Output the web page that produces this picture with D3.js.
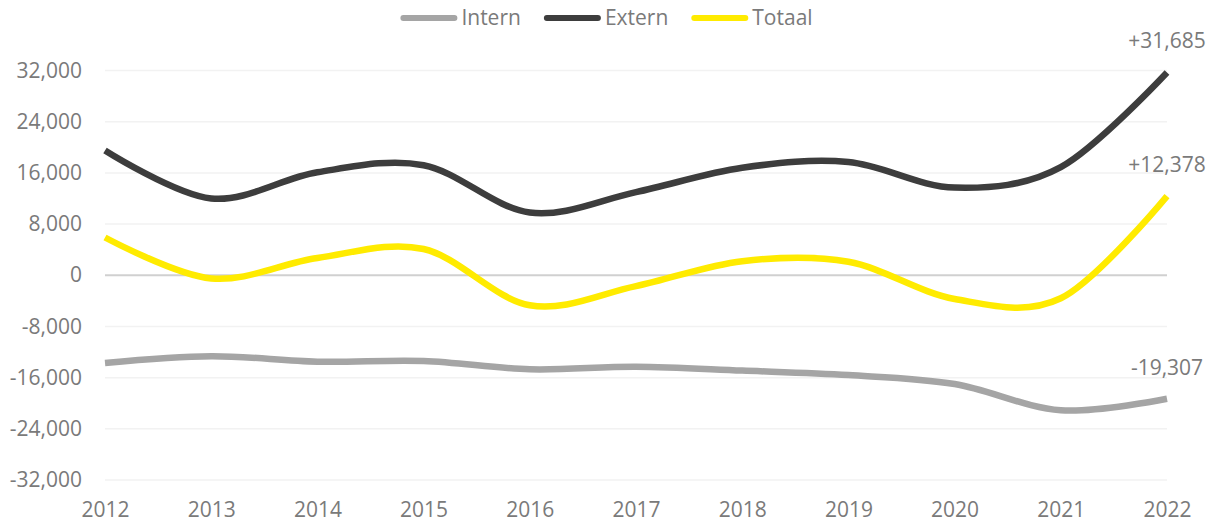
<!DOCTYPE html>
<html>
<head>
<meta charset="utf-8">
<script src="https://cdn.jsdelivr.net/npm/d3@7/dist/d3.min.js"></script>
<style>
  html, body { margin: 0; padding: 0; background: #ffffff; }
  svg { display: block; }
</style>
</head>
<body>
<div id="chart"></div>
<script>
// ── data ──────────────────────────────────────────────────────────────────
var years  = [2012, 2013, 2014, 2015, 2016, 2017, 2018, 2019, 2020, 2021, 2022];
var intern = [-13700, -12650, -13500, -13400, -14700, -14300, -14900, -15600, -17000, -21100, -19307];
var extern = [19500, 12000, 16100, 17200, 9800, 13000, 16800, 17700, 13700, 16900, 31685];
var totaal = [5900, -500, 2700, 4100, -4700, -1700, 2200, 2100, -3700, -3600, 12378];
var yTicks = [-32000, -24000, -16000, -8000, 0, 8000, 16000, 24000, 32000];

var seriesNames  = ['Intern', 'Extern', 'Totaal'];
var seriesValues = [intern, extern, totaal];

// ── theme ─────────────────────────────────────────────────────────────────
var c = {
    intern:   '#a5a5a5',
    extern:   '#3d3d3d',
    totaal:   '#ffeb00',
    grid:     '#f2f2f2',
    zero:     '#d0d0d0',
    text:     '#7a7a7a',
};
var colors = [c.intern, c.extern, c.totaal];
var font = '"Open Sans", "Liberation Sans", sans-serif';

// ── geometry ──────────────────────────────────────────────────────────────
var W = 1213, H = 523;
var x0 = 105, x1 = 1167;
var yTop = 70.5, yBot = 480;

var loc = d3.formatLocale({ decimal: '.', thousands: ',', grouping: [3], currency: ['', ''], minus: '-' });
var fmtTick = loc.format(',');
var fmtEnd  = loc.format('+,');

var x = d3.scaleLinear().domain([2012, 2022]).range([x0, x1]);
var y = d3.scaleLinear().domain([-32000, 32000]).range([yBot, yTop]);

var svg = d3.select('#chart').append('svg')
    .attr('width', W).attr('height', H)
    .attr('font-family', font);

// ── gridlines ─────────────────────────────────────────────────────────────
svg.append('g').selectAll('line').data(yTicks).enter().append('line')
    .attr('x1', x0).attr('x2', x1)
    .attr('y1', function (d) { return y(d); })
    .attr('y2', function (d) { return y(d); })
    .attr('stroke', function (d) { return d === 0 ? c.zero : c.grid; })
    .attr('stroke-width', function (d) { return d === 0 ? 2 : 1.5; });

// ── axes ──────────────────────────────────────────────────────────────────
var yAxis = svg.append('g')
    .attr('transform', 'translate(' + (x0 - 23) + ',0)')
    .call(d3.axisLeft(y).tickValues(yTicks).tickSize(0).tickPadding(0).tickFormat(fmtTick));

var xAxis = svg.append('g')
    .attr('transform', 'translate(0,' + yBot + ')')
    .call(d3.axisBottom(x).tickValues(years).tickSize(0).tickPadding(22).tickFormat(d3.format('d')));

[yAxis, xAxis].forEach(function (ax) {
    ax.select('.domain').remove();
    ax.selectAll('text')
        .attr('fill', c.text)
        .attr('font-size', '21px')
        .attr('font-family', font);
});

// ── lines ─────────────────────────────────────────────────────────────────
var line = d3.line()
    .x(function (d, i) { return x(years[i]); })
    .y(function (d) { return y(d); })
    .curve(d3.curveCardinal.tension(0));

seriesValues.forEach(function (vals, si) {
    svg.append('path')
        .attr('d', line(vals))
        .attr('fill', 'none')
        .attr('stroke', colors[si])
        .attr('stroke-width', 6.5)
        .attr('stroke-linejoin', 'round');
});

// end value labels
seriesValues.forEach(function (vals) {
    var v = vals[vals.length - 1];
    svg.append('text')
        .attr('x', x(years[years.length - 1]))
        .attr('y', y(v) - 31.5)
        .attr('dy', '0.35em')
        .attr('text-anchor', 'middle')
        .attr('font-size', '21px')
        .attr('fill', c.text)
        .text(fmtEnd(v));
});

// ── legend ────────────────────────────────────────────────────────────────
var legend = svg.append('g');
var keyW = 57, keyGap = 4, itemGap = 23, ly = 18;
var cursor = 0;
seriesNames.forEach(function (name, si) {
    var g = legend.append('g').attr('transform', 'translate(' + cursor + ',0)');
    g.append('line')
        .attr('x1', 3).attr('x2', keyW - 3)
        .attr('y1', ly).attr('y2', ly)
        .attr('stroke', colors[si])
        .attr('stroke-width', 6)
        .attr('stroke-linecap', 'round');
    var t = g.append('text')
        .attr('x', keyW + keyGap).attr('y', ly)
        .attr('dy', '0.35em')
        .attr('font-size', '21px')
        .attr('fill', c.text)
        .text(name);
    cursor += keyW + keyGap + t.node().getComputedTextLength() + itemGap;
});
var legW = cursor - itemGap;
legend.attr('transform', 'translate(' + (W / 2 - legW / 2) + ',0)');
</script>
</body>
</html>
